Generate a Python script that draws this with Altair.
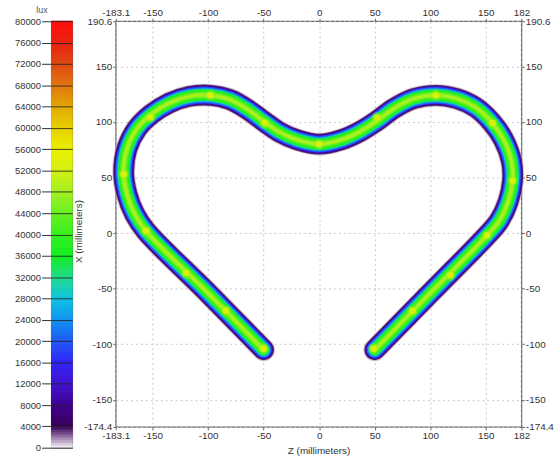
import altair as alt
import numpy as np
import pandas as pd

# ---- data ----
PATH_Z = [-50, -100, -156, -166, -173, -176, -173, -164, -151, -135, -117, -98, -80, -64, -49,
          -36, -20, 0, 20, 36, 52, 67, 85, 105, 124, 141, 155, 166, 173, 174, 170, 162, 151, 100, 50]
PATH_X = [-105, -54, 2, 17, 35, 55, 76, 94, 107, 117, 123, 124, 120, 111, 100,
          91, 84, 80, 84, 91, 101, 112, 121, 124, 121, 113, 100, 84, 65, 47, 28, 11, -2, -54, -105]

LED_Z = [-50, -84, -120, -156, -176, -152, -98, -49, 0, 52, 105, 156, 174, 151, 118, 84, 49]
LED_X = [-104, -70, -36, 2, 53, 104, 124, 99, 80, 104, 124, 99, 47, -2, -38, -70, -104]

BAND_LUX = [1500, 3500, 8000, 15000, 21000, 27000, 33000, 37000, 41000, 46000, 49000]
LED_LUX = [47000, 55000]

LUX_STOPS = [0, 4000, 8000, 12000, 16000, 20000, 24000, 28000, 32000, 36000, 40000,
             44000, 48000, 52000, 56000, 60000, 64000, 68000, 72000, 76000, 80000]
LUX_COLORS = ["#fbf8fc", "#3a0058", "#40008f", "#4012d0", "#3224f6", "#2058f6", "#1092f0",
              "#10c2e0", "#20da8c", "#12ee22", "#36f020", "#66f020", "#a2f020", "#d2f012",
              "#eaf000", "#e8d000", "#e2a800", "#e07810", "#e04812", "#e82210", "#ff1010"]
LUX_TICKS = list(range(0, 80001, 4000))

Z_TICKS = [-183.1, -150, -100, -50, 0, 50, 100, 150, 182]
X_TICKS = [-174.4, -150, -100, -50, 0, 50, 100, 150, 190.6]

# ---- styles ----
BAND_WIDTH = [23, 21, 19, 17.5, 16, 13.5, 12, 10.5, 8, 5, 2.5]
FONT = "Liberation Sans"
LABEL_EXPR = "'' + datum.value"

color_scale = alt.Scale(type="linear", domain=LUX_STOPS, range=LUX_COLORS,
                        interpolate="rgb", clamp=True)
zscale = alt.Scale(domain=[Z_TICKS[0], Z_TICKS[-1]], nice=False, zero=False)
xscale = alt.Scale(domain=[X_TICKS[0], X_TICKS[-1]], nice=False, zero=False)

path_df = pd.DataFrame({"order": range(len(PATH_Z)), "z": PATH_Z, "x": PATH_X})
led_df = pd.DataFrame({"z": LED_Z, "x": LED_X})

ax_common = dict(labelExpr=LABEL_EXPR, labelOverlap=False, labelFlush=False,
                 labelBound=False, labelFontSize=10, labelColor="#333", tickSize=3,
                 tickColor="#666", labelPadding=1, domain=False)

layers = []
for i, (lux, w) in enumerate(zip(BAND_LUX, BAND_WIDTH)):
    if i == 0:
        xa = alt.Axis(values=Z_TICKS, orient="bottom", title="Z (millimeters)", grid=True,
                      gridDash=[2, 3], gridColor="#c8c8c8", titleFontSize=10,
                      titleFontWeight="normal", titleColor="#333", titleY=19,
                      titleBaseline="top", **ax_common)
        ya = alt.Axis(values=X_TICKS, orient="left", title="X (millimeters)", grid=True,
                      gridDash=[2, 3], gridColor="#c8c8c8", titleFontSize=10,
                      titleFontWeight="normal", titleColor="#333", titleX=-38, titleY=212,
                      titleAngle=270, titleAlign="center", titleBaseline="middle",
                      **ax_common)
    else:
        xa = None
        ya = None
    layers.append(
        alt.Chart(path_df.assign(lux=lux))
        .mark_line(strokeWidth=w, strokeCap="round", strokeJoin="round",
                   interpolate="catmull-rom", opacity=0.6 if i == 0 else 1)
        .encode(
            x=alt.X("z:Q", scale=zscale, axis=xa),
            y=alt.Y("x:Q", scale=xscale, axis=ya),
            order="order:Q",
            color=alt.Color("lux:Q", scale=color_scale, legend=None),
        )
    )

top_ax = alt.Axis(values=Z_TICKS, orient="top", title=None, grid=False, **ax_common)
right_ax = alt.Axis(values=X_TICKS, orient="right", title=None, grid=False, **ax_common)

halo = (
    alt.Chart(led_df.assign(lux=LED_LUX[0]))
    .mark_circle(size=120, opacity=0.45)
    .encode(x=alt.X("z:Q", scale=zscale, axis=None),
            y=alt.Y("x:Q", scale=xscale, axis=None),
            color=alt.Color("lux:Q", scale=color_scale, legend=None))
)
core = (
    alt.Chart(led_df.assign(lux=LED_LUX[1]))
    .mark_circle(size=45, opacity=0.85)
    .encode(x=alt.X("z:Q", scale=zscale, axis=top_ax),
            y=alt.Y("x:Q", scale=xscale, axis=right_ax),
            color=alt.Color("lux:Q", scale=color_scale, legend=None))
)

main = (
    alt.layer(*layers, halo, core)
    .resolve_axis(x="independent", y="independent")
    .properties(width=410, height=410)
)

# ---- colour bar ----
lo = np.arange(0, 80000, 500)
cb_df = pd.DataFrame({"lo": lo, "hi": lo + 500, "mid": lo + 250})
colorbar = (
    alt.Chart(cb_df)
    .mark_rect(strokeWidth=1)
    .encode(
        y=alt.Y("lo:Q", scale=alt.Scale(domain=[0, 80000], nice=False),
                axis=alt.Axis(values=LUX_TICKS, format="d", title="lux", titleAngle=0,
                              titleX=-10, titleY=-12, titleAlign="center",
                              titleBaseline="middle", titleFontSize=9,
                              titleFontWeight="normal", titleColor="#555",
                              labelFontSize=9.5, labelColor="#333", tickSize=10,
                              tickColor="#333", labelPadding=1, grid=True,
                              gridColor="#222", gridOpacity=0.85, domain=False,
                              labelOverlap=False, zindex=1)),
        y2="hi:Q",
        color=alt.Color("mid:Q", scale=color_scale, legend=None),
        stroke=alt.Color("mid:Q", scale=color_scale, legend=None),
    )
    .properties(width=21, height=431)
)

chart = (
    alt.hconcat(colorbar, main, spacing=44, bounds="flush")
    .properties(padding={"left": 13, "top": 2, "right": 5, "bottom": 5})
    .configure_view(stroke="#666", strokeWidth=1.3)
    .configure_axis(labelFont=FONT, titleFont=FONT)
)

chart.save("out.html", embed_options={"renderer": "svg", "actions": False})
